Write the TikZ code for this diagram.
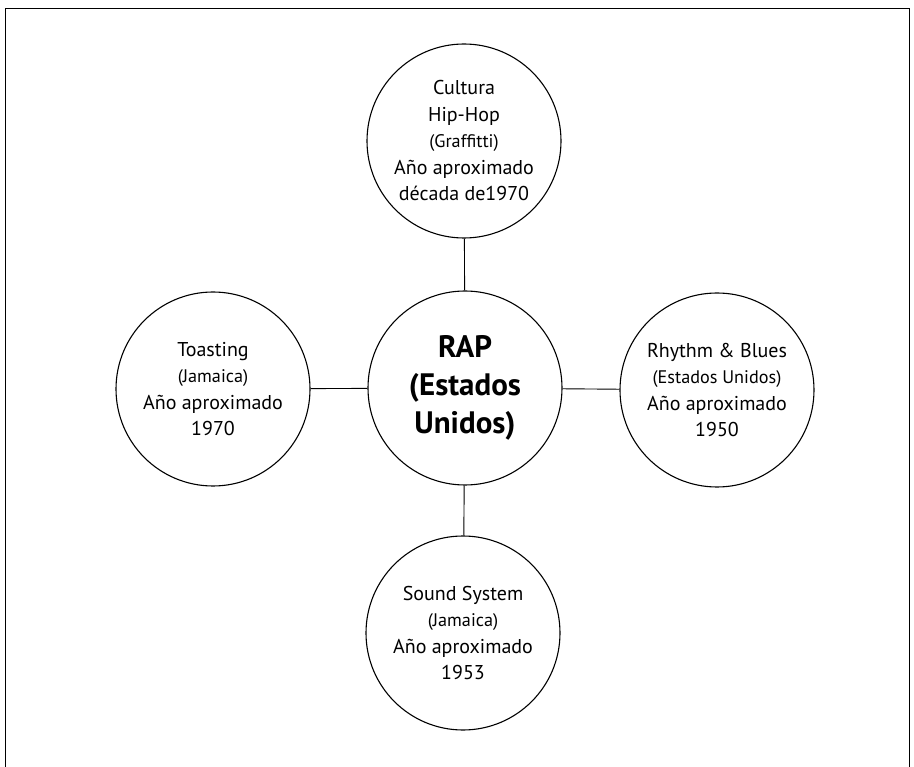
\documentclass[tikz,border=0pt]{standalone}
\usepackage{fontspec}
\setmainfont{PT Sans}
\begin{document}
\begin{tikzpicture}[x=1pt,y=-1pt,
  bubble/.style={circle, draw, line width=1.1pt, minimum size=194pt, inner sep=0pt, align=center,
    font=\fontsize{20}{26.5}\selectfont},
  hub/.style={bubble, font=\fontsize{31}{38}\selectfont\bfseries},
  link/.style={line width=0.9pt},
  frame/.style={line width=0.9pt}]
\newcommand{\smalltxt}[1]{{\fontsize{18.2}{26}\selectfont #1}}
\useasboundingbox (0,0) rectangle (914,767);
\draw[frame] (5,767) -- (5,8.5) -- (909,8.5) -- (909,767);
\node[hub] (rap) at (465,388) {RAP\\(Estados\\Unidos)};
\node[bubble] (hip) at (464,141) {Cultura\\Hip-Hop\\\smalltxt{(Graffitti)}\\Año aproximado\\década de1970};
\node[bubble] (toast) at (213,389) {Toasting\\\smalltxt{(Jamaica)}\\Año aproximado\\1970};
\node[bubble] (rnb) at (717,390) {Rhythm \& Blues\\\smalltxt{(Estados Unidos)}\\Año aproximado\\1950};
\node[bubble] (sound) at (463,633) {Sound System\\\smalltxt{(Jamaica)}\\Año aproximado\\1953};
\draw[link] (hip) -- (rap);
\draw[link] (toast) -- (rap);
\draw[link] (rap) -- (rnb);
\draw[link] (rap) -- (sound);
\end{tikzpicture}
\end{document}
